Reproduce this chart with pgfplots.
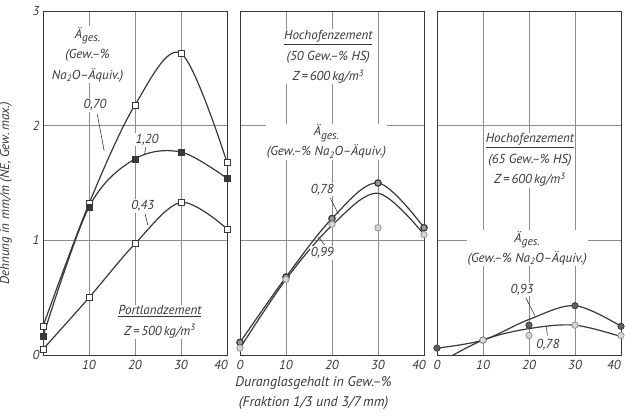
\documentclass[border=0pt]{standalone}
\usepackage{pgfplots}
\pgfplotsset{compat=1.18}
\usepackage{fontspec}
\setmainfont{PT Sans}
\definecolor{ink}{gray}{0.22}
\definecolor{gridc}{gray}{0.55}
\definecolor{mfill}{gray}{0.6}
\newcommand{\lbl}{\itshape\fontsize{13}{20.5}\selectfont}
\newcommand{\ges}{Ä\raisebox{-0.55ex}{\fontsize{11.5}{11.5}\selectfont ges.}}
\tikzset{leader/.style={ink, line width=0.6pt}}
\pgfplotsset{panel/.style={
  scale only axis, width=184pt, height=344pt, anchor=south west,
  xmin=0, xmax=40, ymin=0, ymax=3,
  axis line style={ink, line width=0.9pt},
  grid=major, major grid style={gridc, line width=0.55pt},
  major tick length=0pt,
  tick label style={font=\itshape\fontsize{13}{13}\selectfont, text=ink},
  /pgf/number format/assume math mode=true,
  xtick={10,20,30}, ytick={1,2},
  extra x tick style={grid=none},
  extra y tick style={grid=none},
  xticklabel style={yshift=-2pt},
  every axis plot/.append style={ink, line width=1.2pt},
},
curve/.style={smooth, tension=0.55, no markers},
osq/.style={only marks, mark=square*, mark size=3pt, mark options={fill=white, draw=ink, line width=0.7pt}},
fsq/.style={only marks, mark=square*, mark size=3pt, mark options={fill=ink, draw=ink, line width=0.7pt}},
ocirc/.style={only marks, mark=*, mark size=3.2pt, mark options={fill=mfill!40, draw=gridc, line width=0.7pt}},
fcirc/.style={only marks, mark=*, mark size=3.2pt, mark options={fill=ink!80, draw=ink, line width=0.7pt}},
}
\begin{document}
\begin{tikzpicture}
\useasboundingbox (0,0) rectangle (625pt,419pt);
% ---------------- Panel 1: Portlandzement
\begin{axis}[panel, at={(43pt,64pt)},
  extra x ticks={40}, extra x tick labels={40},
  extra x tick style={grid=none, xticklabel style={xshift=-6pt}},
  extra y ticks={0,3},
  ylabel={Dehnung in mm/m (NE, Gew.\,max.)},
  ylabel style={font=\itshape\fontsize{13}{13}\selectfont, text=ink, at={(axis description cs:-0.15,0.47)}},
]
\addplot[curve] coordinates {(0,0.25) (10,1.32) (20,2.18) (30,2.63) (40,1.68)};
\addplot[curve] coordinates {(0,0.16) (10,1.29) (20,1.71) (30,1.77) (40,1.54)};
\addplot[curve] coordinates {(0,0.05) (10,0.50) (20,0.97) (30,1.33) (40,1.10)};
\addplot[osq] coordinates {(0,0.25) (10,1.32) (20,2.18) (30,2.63) (40,1.68)};
\addplot[fsq] coordinates {(0,0.16) (10,1.29) (20,1.71) (30,1.77) (40,1.54)};
\addplot[osq] coordinates {(0,0.05) (10,0.50) (20,0.97) (30,1.33) (40,1.10)};
\node[fill=white, text=ink, inner sep=1pt, align=center, font=\lbl] at (axis cs:9.7,2.62)
  {\ges\\(Gew.--\%\\Na\textsubscript{2}O--Äquiv.)};
\node[fill=white, text=ink, inner sep=1pt, font=\lbl] at (axis cs:11.3,2.18) {0,70};
\draw[leader] (axis cs:11.8,2.10) -- (axis cs:13.3,1.78);
\node[fill=white, text=ink, inner sep=1pt, font=\lbl] at (axis cs:22.6,1.88) {1,20};
\draw[leader] (axis cs:22.3,1.81) -- (axis cs:22.1,1.75);
\node[fill=white, text=ink, inner sep=1pt, font=\lbl] at (axis cs:21.7,1.30) {0,43};
\draw[leader] (axis cs:22.2,1.23) -- (axis cs:22.8,1.13);
\node[fill=white, text=ink, inner sep=1pt, align=center, font=\lbl] at (axis cs:25.4,0.29)
  {\underline{Portlandzement}\\Z\,=\,500\,kg/m\textsuperscript{3}};
\end{axis}
% ---------------- Panel 2: Hochofenzement 50
\begin{axis}[panel, at={(240pt,64pt)},
  xtick={0,10,20,30}, yticklabels={},
  extra x ticks={40}, extra x tick labels={40},
  extra x tick style={grid=none, xticklabel style={xshift=-5pt}},
  xlabel={Duranglasgehalt in Gew.--\%\\(Fraktion 1/3 und 3/7\,mm)},
  xlabel style={font=\itshape\fontsize{14}{20}\selectfont, text=ink, align=center, at={(axis description cs:0.40,-0.052)}, anchor=north},
]
\addplot[curve] coordinates {(0,0.11) (10,0.68) (20,1.19) (30,1.50) (40,1.11)};
\addplot[curve] coordinates {(0,0.06) (10,0.66) (20,1.13) (30,1.41) (40,1.05)};
\addplot[fcirc, mark options={fill=mfill, draw=ink}] coordinates {(0,0.11) (10,0.68) (20,1.19) (30,1.50) (40,1.11)};
\addplot[ocirc] coordinates {(0,0.06) (10,0.66) (20,1.14) (30,1.11) (40,1.05)};
\node[fill=white, text=ink, inner sep=1pt, align=center, font=\lbl] at (axis cs:19.2,2.60)
  {\underline{Hochofenzement}\\(50 Gew.--\% HS)\\Z\,=\,600\,kg/m\textsuperscript{3}};
\node[fill=white, text=ink, inner sep=1pt, align=center, font=\lbl] at (axis cs:18.8,1.86)
  {\ges\\(Gew.--\% Na\textsubscript{2}O--Äquiv.)};
\node[fill=white, text=ink, inner sep=1pt, font=\lbl] at (axis cs:17.9,1.44) {0,78};
\draw[leader] (axis cs:19.6,1.37) -- (axis cs:21.4,1.23);
\node[fill=white, text=ink, inner sep=1pt, font=\lbl] at (axis cs:17.9,0.89) {0,99};
\draw[leader] (axis cs:18.4,0.96) -- (axis cs:17.0,1.03);
\end{axis}
% ---------------- Panel 3: Hochofenzement 65
\begin{axis}[panel, at={(437pt,64pt)},
  xtick={0,10,20,30}, yticklabels={},
  extra x ticks={40}, extra x tick labels={40},
  extra x tick style={grid=none, xticklabel style={xshift=-7pt}},
]
\addplot[curve] coordinates {(0,0.06) (10,0.13) (20,0.31) (30,0.43) (40,0.25)};
\addplot[curve] coordinates {(0,-0.08) (10,0.13) (20,0.23) (30,0.26) (40,0.16)};
\addplot[fcirc] coordinates {(0,0.06) (10,0.13) (20,0.26) (30,0.43) (40,0.25)};
\addplot[ocirc] coordinates {(10,0.13) (20,0.17) (30,0.26) (40,0.17)};
\node[fill=white, text=ink, inner sep=1pt, align=center, font=\lbl] at (axis cs:20.2,1.70)
  {\underline{Hochofenzement}\\(65 Gew.--\% HS)\\Z\,=\,600\,kg/m\textsuperscript{3}};
\node[fill=white, text=ink, inner sep=1pt, align=center, font=\lbl] at (axis cs:19.6,0.93)
  {\ges\\(Gew.--\% Na\textsubscript{2}O--Äquiv.)};
\node[fill=white, text=ink, inner sep=1pt, font=\lbl] at (axis cs:18.5,0.57) {0,93};
\draw[leader] (axis cs:19.3,0.50) -- (axis cs:21.3,0.34);
\node[fill=white, text=ink, inner sep=1pt, font=\lbl] at (axis cs:24.1,0.09) {0,78};
\draw[leader] (axis cs:24.0,0.17) -- (axis cs:23.8,0.24);
\end{axis}
\end{tikzpicture}
\end{document}
